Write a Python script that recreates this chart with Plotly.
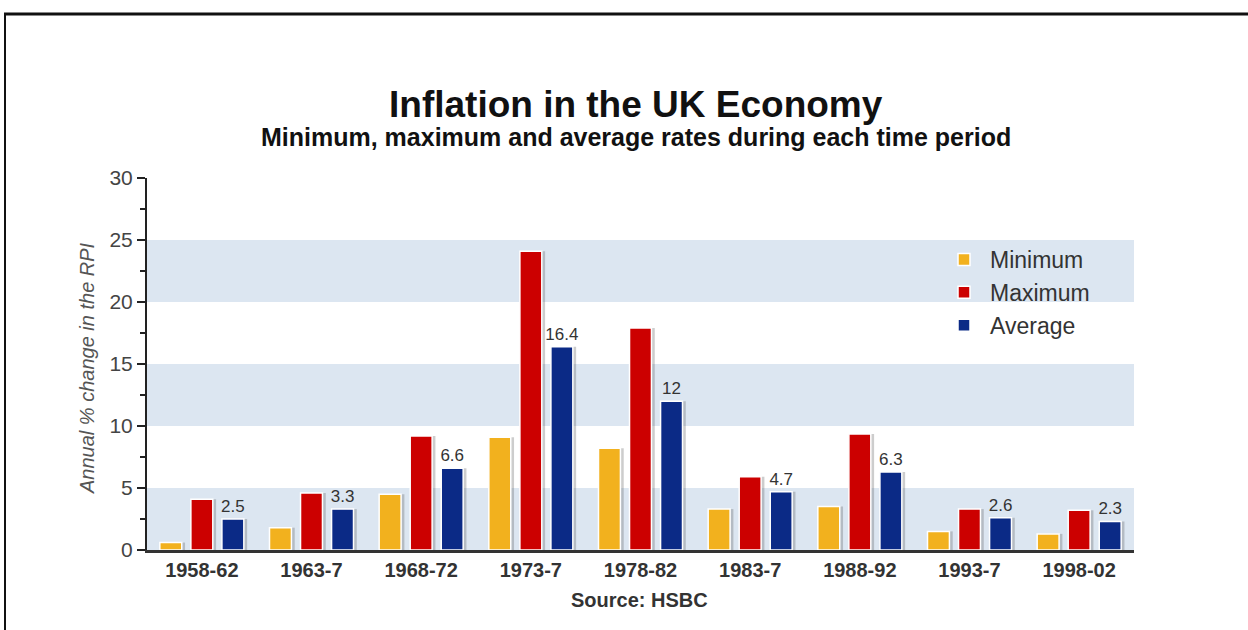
import plotly.graph_objects as go

periods = ["1958-62", "1963-7", "1968-72", "1973-7", "1978-82", "1983-7", "1988-92", "1993-7", "1998-02"]
minimum = [0.6, 1.8, 4.5, 9.1, 8.2, 3.3, 3.5, 1.5, 1.3]
maximum = [4.1, 4.6, 9.2, 24.1, 17.9, 5.9, 9.35, 3.3, 3.2]
average = [2.5, 3.3, 6.6, 16.4, 12, 4.7, 6.3, 2.6, 2.3]

W, H = 1248, 630
ML, MR, MT, MB = 147, 114, 178, 80
PW, PH = W - ML - MR, H - MT - MB

def px(x):
    return (x - ML) / PW

def py(y):
    return (H - MB - y) / PH

FONT = "Liberation Sans, Arial, sans-serif"
C_MIN, C_MAX, C_AVG = "#f2b11e", "#cc0000", "#0b2a86"

fig = go.Figure()

specs = [("Minimum", minimum, C_MIN, -0.383), ("Maximum", maximum, C_MAX, -0.1), ("Average", average, C_AVG, 0.183)]
bw = 0.2
# shadows
for name, vals, col, off in specs:
    fig.add_trace(go.Bar(x=periods, y=vals, offset=off + 0.03, width=bw,
                         marker=dict(color="rgba(90,90,90,0.3)", line=dict(width=0)),
                         showlegend=False, hoverinfo="skip"))
for i, (name, vals, col, off) in enumerate(specs):
    kw = {}
    if name == "Average":
        kw = dict(text=[str(v) for v in vals], textposition="outside", constraintext="none",
                  textfont=dict(family=FONT, size=17, color="#333333"), cliponaxis=False)
    fig.add_trace(go.Bar(x=periods, y=vals, name=name, offset=off, width=bw,
                         marker=dict(color=col, line=dict(color="white", width=1.5)),
                         legendgroup=name, **kw))

shapes = []
for lo, hi in [(0, 5), (10, 15), (20, 25)]:
    shapes.append(dict(type="rect", xref="paper", yref="y", x0=0, x1=1, y0=lo, y1=hi,
                       fillcolor="#dce6f1", line=dict(width=0), layer="below"))
# frame lines
shapes.append(dict(type="line", xref="paper", yref="paper", x0=px(4), x1=px(W + 5), y0=py(14), y1=py(14),
                   line=dict(color="#111111", width=3)))
shapes.append(dict(type="line", xref="paper", yref="paper", x0=px(5), x1=px(5), y0=py(14), y1=py(H + 5),
                   line=dict(color="#111111", width=2)))

annotations = [
    dict(text="<b>Inflation in the UK Economy</b>", xref="paper", yref="paper", x=px(636), y=py(105),
         xanchor="center", yanchor="middle", showarrow=False, font=dict(family=FONT, size=37, color="#111111")),
    dict(text="<b>Minimum, maximum and average rates during each time period</b>", xref="paper", yref="paper",
         x=px(636), y=py(137), xanchor="center", yanchor="middle", showarrow=False,
         font=dict(family=FONT, size=25, color="#111111")),
    dict(text="<b>Source: HSBC</b>", xref="paper", yref="paper", x=px(639), y=py(600),
         xanchor="center", yanchor="middle", showarrow=False, font=dict(family=FONT, size=20, color="#333333")),
    dict(text="<i>Annual % change in the RPI</i>", xref="paper", yref="paper", x=px(87), y=py(368),
         xanchor="center", yanchor="middle", textangle=-90, showarrow=False,
         font=dict(family=FONT, size=20, color="#555555")),
]

fig.update_layout(
    width=W, height=H, margin=dict(l=ML, r=MR, t=MT, b=MB, pad=0),
    paper_bgcolor="white", plot_bgcolor="white",
    barmode="overlay", showlegend=True,
    legend=dict(x=px(938), y=py(238), xanchor="left", yanchor="top", bgcolor="rgba(0,0,0,0)",
                font=dict(family=FONT, size=23, color="#333333"), tracegroupgap=0,
                itemwidth=42),
    shapes=shapes, annotations=annotations,
    font=dict(family=FONT),
)
fig.update_xaxes(type="category", range=[-0.5, 8.5], showline=True, linecolor="#333333", linewidth=3,
                 ticks="", showgrid=False, tickfont=dict(family=FONT, size=20, color="#333333"),
                 tickprefix="<b>", ticksuffix="</b>", fixedrange=True)
fig.update_yaxes(range=[0, 30], dtick=5, showline=True, linecolor="#222222", linewidth=2,
                 ticks="outside", ticklen=8, tickwidth=2, tickcolor="#222222", showgrid=False, zeroline=False,
                 tickfont=dict(family=FONT, size=21, color="#444444"),
                 minor=dict(dtick=2.5, ticks="outside", ticklen=5, tickwidth=2, tickcolor="#222222", showgrid=False))

fig.write_html("out.html")
